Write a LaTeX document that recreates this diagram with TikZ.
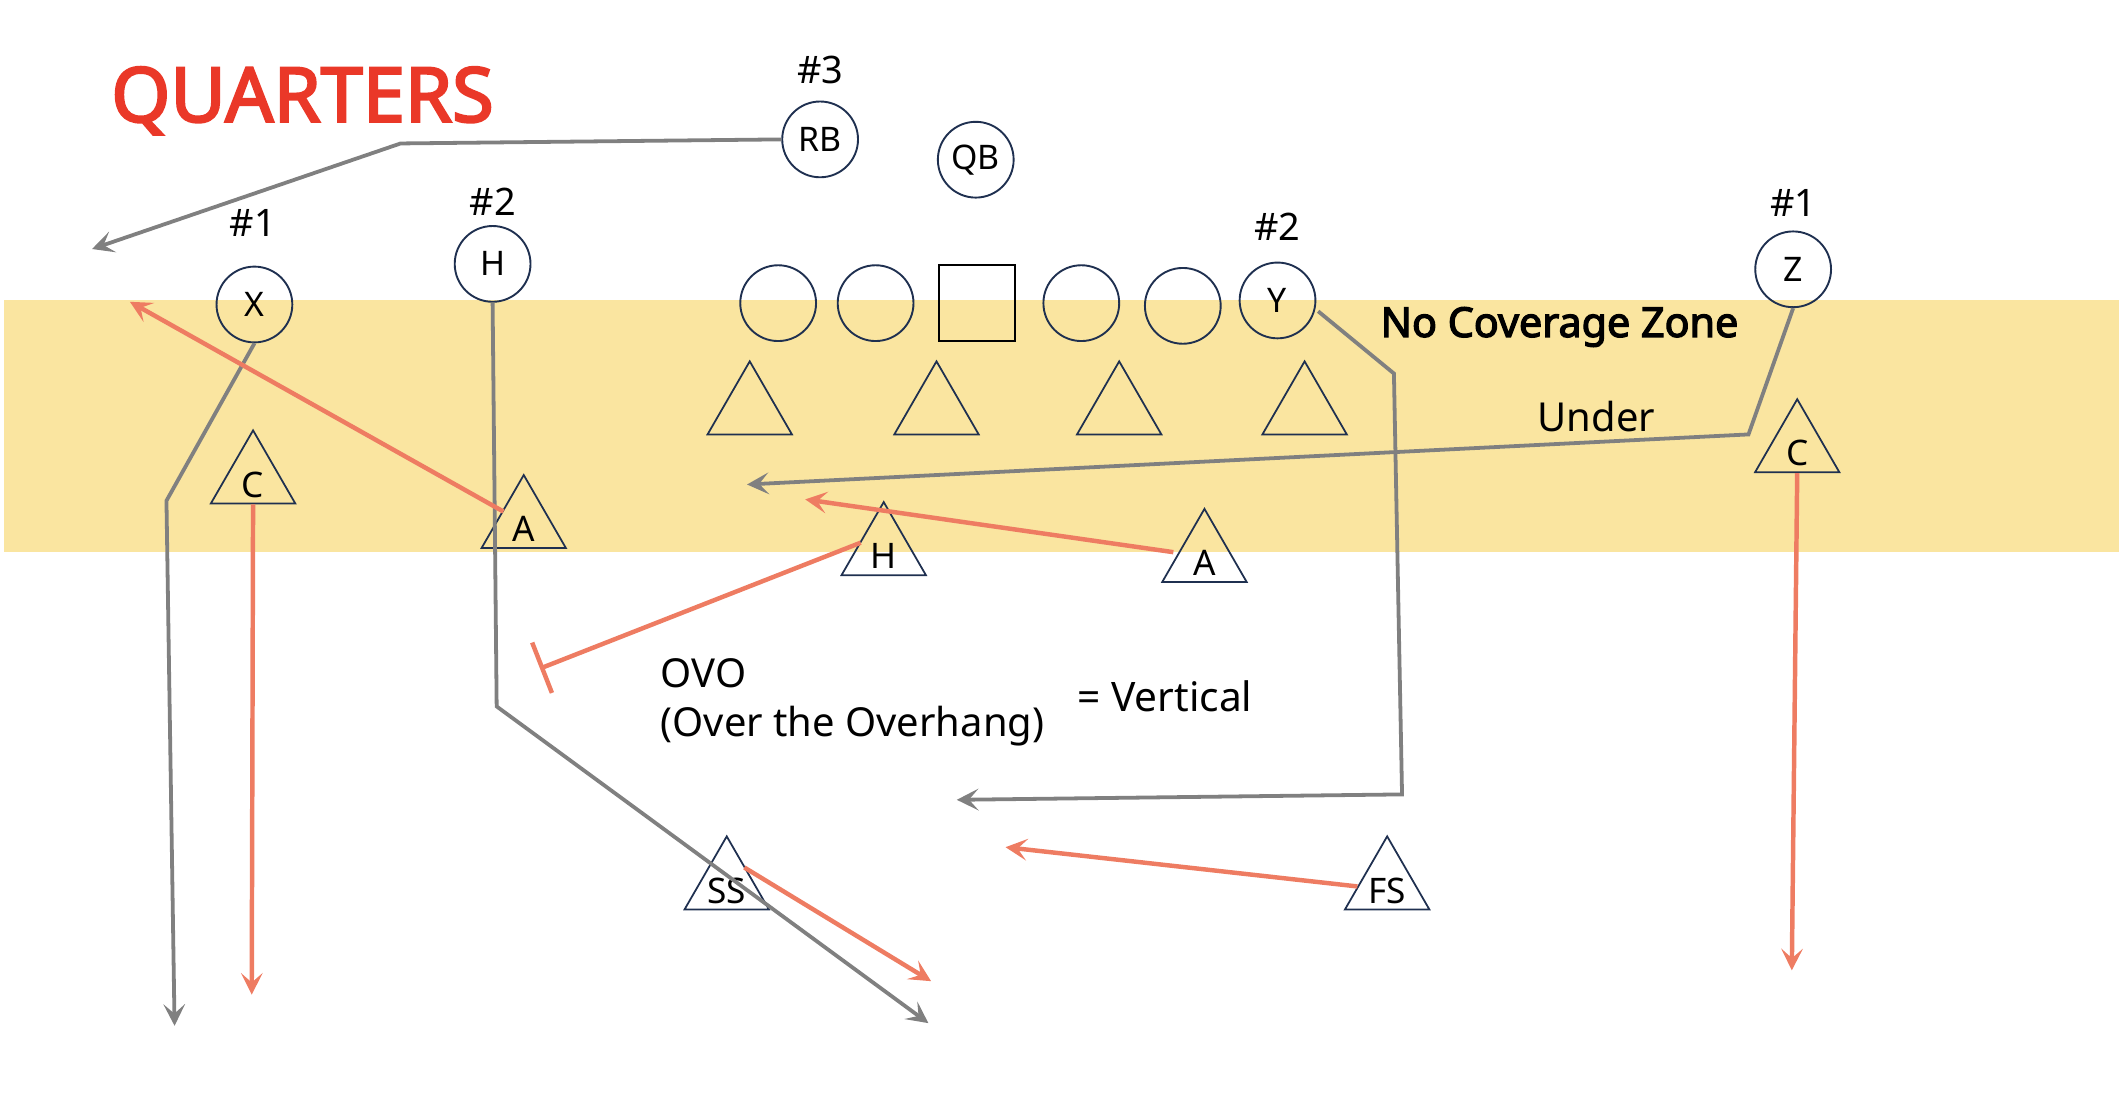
\documentclass[tikz,border=0pt]{standalone}
\usepackage{fontspec}
\setmainfont{Noto Sans}[AutoFakeBold=3]
\usetikzlibrary{arrows.meta,shapes.geometric,calc}
\definecolor{band}{RGB}{250,229,160}
\definecolor{titlered}{RGB}{234,56,40}
\definecolor{salmon}{RGB}{238,124,98}
\definecolor{route}{RGB}{128,128,128}
\definecolor{navy}{RGB}{31,48,80}
\begin{document}
\begin{tikzpicture}[x=1pt,y=-1pt,
  off/.style={circle,draw=navy,line width=1.4pt,minimum size=56pt,inner sep=0pt,font=\fontsize{25}{28}\selectfont},
  cen/.style={rectangle,draw=black,line width=1.4pt,minimum size=56pt,inner sep=0pt},
  deftri/.style={regular polygon,regular polygon sides=3,draw=navy,line width=1.3pt,minimum size=72pt,inner sep=0pt},
  dlab/.style={deftri,label={[font=\fontsize{26}{28}\selectfont,yshift=-4pt,inner sep=0pt]center:#1}},
  num/.style={anchor=base,font=\fontsize{28}{32}\selectfont,inner sep=0pt},
  txt/.style={anchor=base west,font=\fontsize{29.5}{33}\selectfont,inner sep=0pt},
  tip/.style={-{Stealth[length=16pt,width=16pt,inset=7pt]}},
  routeline/.style={draw=route,line width=2.8pt,tip},
  covline/.style={draw=salmon,line width=3.3pt,tip}
]
\useasboundingbox (0,0) rectangle (1568,825);
% no coverage zone band
\fill[band] (3,222) rectangle (1566,408);

% title
\node[anchor=base west,inner sep=0pt,text=titlered,font=\fontsize{56}{60}\selectfont\bfseries] (title) at (82,90) {QUARTERS};

% offense
\node[off] (RB) at (606,103) {RB};
\node[off] (QB) at (721,118) {QB};
\node[off] (X) at (188,225) {X};
\node[off] (H) at (364,195) {H};
\node[off] (Y) at (944,222) {Y};
\node[off] (Z) at (1325,199) {Z};
\node[off] (LT) at (575,224) {};
\node[off] (LG) at (647,224) {};
\node[cen] (C) at (722,224) {};
\node[off] (RG) at (799,224) {};
\node[off] (RT) at (874,226) {};

% receiver numbers
\node[num] (n3) at (606,62) {\#3};
\node[num] (n1l) at (187,175) {\#1};
\node[num] (n2l) at (364,159) {\#2};
\node[num] (n2r) at (944,178) {\#2};
\node[num] (n1r) at (1325,160) {\#1};

% defense
\node[deftri] (D1) at (554,303) {};
\node[deftri] (D2) at (692,303) {};
\node[deftri] (D3) at (827,303) {};
\node[deftri] (D4) at (964,303) {};
\node[dlab=C] (Cl) at (187,354) {};
\node[dlab=A] (Al) at (387,387) {};
\node[dlab=H] (Ht) at (653,407) {};
\node[dlab=A] (Ar) at (890,412) {};
\node[dlab=C] (Cr) at (1328,331) {};
\node[dlab=SS] (SS) at (537,654) {};
\node[dlab=FS] (FS) at (1025,654) {};

% texts
\node[anchor=base west,inner sep=0pt,font=\fontsize{30.5}{34}\selectfont\bfseries] (ncz) at (1020,249) {No Coverage Zone};
\node[txt] (under) at (1136,319) {Under};
\node[txt] (ovo) at (488,508) {OVO};
\node[txt] (ovo2) at (488,544) {(Over the Overhang)};
\node[txt,font=\fontsize{30}{34}\selectfont] (vert) at (796,526) {= Vertical};

% route coordinates
\coordinate (rb1) at (296,106);
\coordinate (rbE) at (68,184);
\coordinate (x1) at (123,370);
\coordinate (xE) at (129,758);
\coordinate (h1) at (367,522);
\coordinate (hE) at (686,756);
\coordinate (y0) at (974,230);
\coordinate (y1) at (1030,276);
\coordinate (y2) at (1036,587);
\coordinate (yE) at (707,591);
\coordinate (z1) at (1292,321);
\coordinate (zE) at (552,358);

% offensive routes
\draw[routeline] (RB.west) -- (rb1) -- (rbE);
\draw[routeline] (X.south) -- (x1) -- (xE);
\draw[routeline] (H.south) -- (h1) -- (hE);
\draw[routeline] (y0) -- (y1) -- (y2) -- (yE);
\draw[routeline] (Z.south) -- (z1) -- (zE);

% coverage coordinates
\coordinate (clE) at (186,735);
\coordinate (al0) at (372,378);
\coordinate (alE) at (96,223);
\coordinate (ar0) at (867,408);
\coordinate (arE) at (595,369);
\coordinate (ht0) at (636,401);
\coordinate (htE) at (399,494);
\coordinate (crE) at (1324,717);
\coordinate (ss0) at (550,641);
\coordinate (ssE) at (688,725);
\coordinate (fs0) at (1003,655);
\coordinate (fsE) at (743,626);

% coverage paths
\draw[covline] (Cl.south) -- (clE);
\draw[covline] (al0) -- (alE);
\draw[covline] (ar0) -- (arE);
\draw[draw=salmon,line width=3.3pt,-{Bar[width=40pt]}] (ht0) -- (htE);
\draw[covline] (Cr.south) -- (crE);
\draw[covline] (ss0) -- (ssE);
\draw[covline] (fs0) -- (fsE);
\end{tikzpicture}
\end{document}
